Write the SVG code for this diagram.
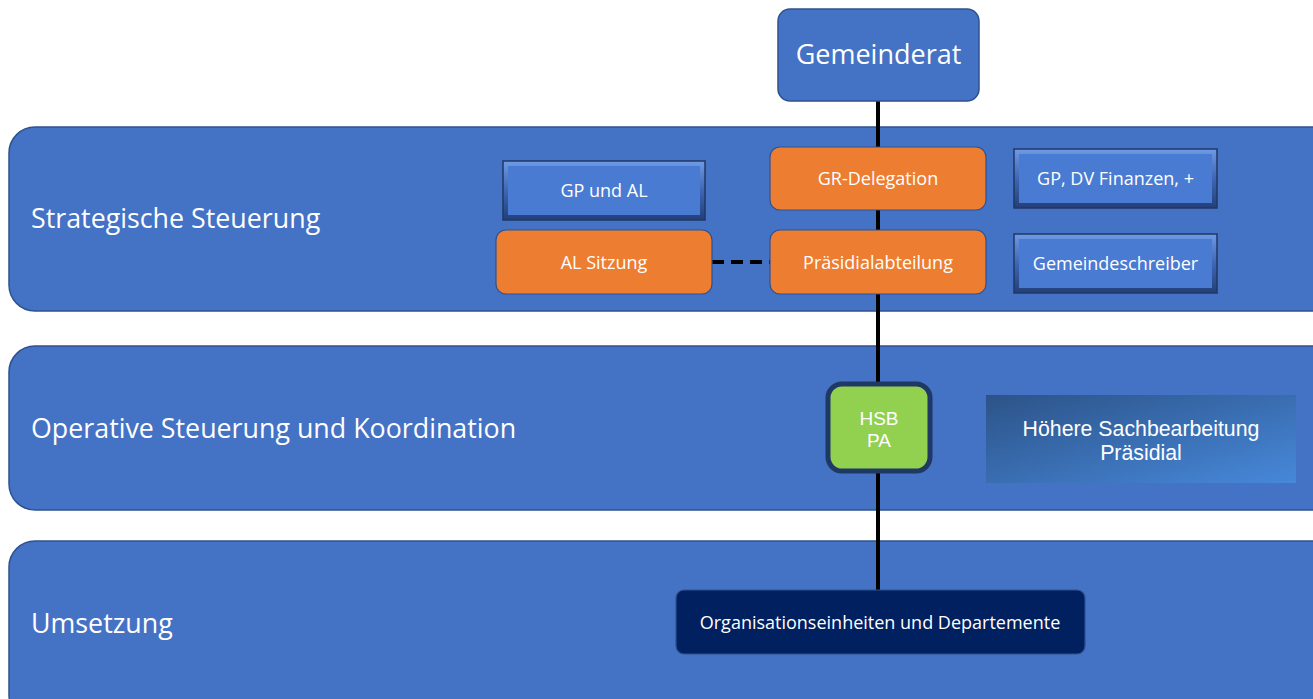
<svg xmlns="http://www.w3.org/2000/svg" width="1313" height="699" viewBox="0 0 1313 699">
<style>
.band{fill:#4472C4;stroke:#2F528F;stroke-width:1.5}
.lbl{font-family:"Open Sans","Noto Sans",sans-serif;fill:#fff;font-size:26.8px}
.t{font-family:"Open Sans","Noto Sans",sans-serif;fill:#fff;font-size:18px;text-anchor:middle}
.a{font-family:"Liberation Sans",Arial,sans-serif;fill:#fff;text-anchor:middle}
.orange{fill:#ED7D31;stroke:#2F528F;stroke-width:1.2}
.bevel{fill:url(#bv);stroke:#1F3864;stroke-width:1.5}
.bevin{fill:#4A7BD3}
.conn{stroke:#000;stroke-width:4;fill:none}
</style>
<defs>
<linearGradient id="hg" x1="0" y1="0" x2="1" y2="1">
<stop offset="0" stop-color="#2C5388"/>
<stop offset="1" stop-color="#4788DA"/>
</linearGradient>
<linearGradient id="bv" x1="0" y1="0" x2="0" y2="1">
<stop offset="0" stop-color="#6E9AE6"/>
<stop offset="0.5" stop-color="#3E66B4"/>
<stop offset="1" stop-color="#233F78"/>
</linearGradient>
</defs>
<rect width="1313" height="699" fill="#fff"/>
<g id="band-strategisch">
<rect class="band" x="9" y="127" width="1330" height="184" rx="26"/>
<text class="lbl" x="31" y="228">Strategische Steuerung</text>
</g>
<g id="band-operativ">
<rect class="band" x="9" y="346" width="1330" height="164" rx="26"/>
<text class="lbl" x="31" y="438">Operative Steuerung und Koordination</text>
</g>
<g id="band-umsetzung">
<rect class="band" x="9" y="541" width="1330" height="180" rx="26"/>
<text class="lbl" x="31" y="633">Umsetzung</text>
</g>
<g id="connectors">
<line class="conn" x1="878" y1="101" x2="878" y2="590"/>
<line class="conn" x1="712" y1="262" x2="770" y2="262" stroke-dasharray="12,7"/>
</g>
<g id="gemeinderat">
<rect x="778" y="9" width="201" height="92" rx="12" fill="#4472C4" stroke="#2F528F" stroke-width="1.5"/>
<text class="t" x="878.5" y="64" style="font-size:27px">Gemeinderat</text>
</g>
<g id="gp-und-al">
<rect class="bevel" x="503" y="161" width="202" height="59"/>
<rect class="bevin" x="508" y="166" width="192" height="49"/>
<text class="t" x="604" y="197">GP und AL</text>
</g>
<g id="al-sitzung">
<rect class="orange" x="496" y="230" width="216" height="64" rx="10"/>
<text class="t" x="604" y="269">AL Sitzung</text>
</g>
<g id="gr-delegation">
<rect class="orange" x="770" y="147" width="216" height="63" rx="10"/>
<text class="t" x="878" y="185">GR-Delegation</text>
</g>
<g id="praesidialabteilung">
<rect class="orange" x="770" y="230" width="216" height="64" rx="10"/>
<text class="t" x="878" y="269">Präsidialabteilung</text>
</g>
<g id="gp-dv-finanzen">
<rect class="bevel" x="1014" y="149" width="203" height="59"/>
<rect class="bevin" x="1019" y="154" width="193" height="49"/>
<text class="t" x="1115.5" y="185">GP, DV Finanzen, +</text>
</g>
<g id="gemeindeschreiber">
<rect class="bevel" x="1014" y="234" width="203" height="59"/>
<rect class="bevin" x="1019" y="239" width="193" height="49"/>
<text class="t" x="1115.5" y="270">Gemeindeschreiber</text>
</g>
<g id="hsb-pa">
<rect x="828" y="384" width="102" height="87" rx="14" fill="#92D050" stroke="#1F3864" stroke-width="5"/>
<text class="a" x="879" y="425" style="font-size:19px">HSB</text>
<text class="a" x="879" y="447" style="font-size:19px">PA</text>
</g>
<g id="hoehere-sachbearbeitung">
<rect x="986" y="395" width="310" height="88" fill="url(#hg)"/>
<text class="a" x="1141" y="436" style="font-size:21.3px">Höhere Sachbearbeitung</text>
<text class="a" x="1141" y="460" style="font-size:21.3px">Präsidial</text>
</g>
<g id="organisationseinheiten">
<rect x="676" y="590" width="409" height="64" rx="8" fill="#002060" stroke="#2F528F" stroke-width="1.2"/>
<text class="t" x="880" y="629" style="font-size:18px">Organisationseinheiten und Departemente</text>
</g>
</svg>
